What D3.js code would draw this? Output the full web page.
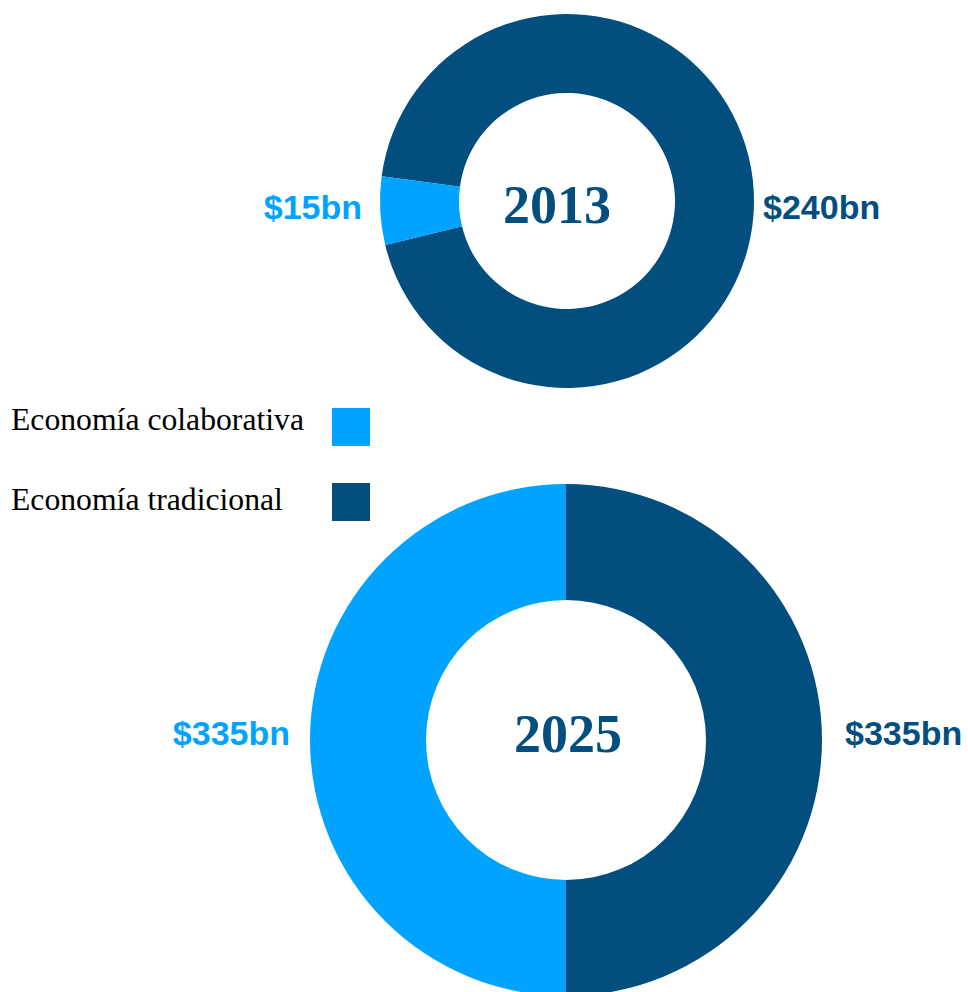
<!DOCTYPE html>
<html>
<head>
<meta charset="utf-8">
<script src="https://cdn.jsdelivr.net/npm/d3@7"></script>
<style>
  html, body { margin: 0; padding: 0; background: #ffffff; }
  svg { display: block; }
</style>
</head>
<body>
<svg id="chart" width="968" height="992"></svg>
<script>
// Market size by year, in billions of dollars
const years = ["2013", "2025"];
const collaborative = [15, 335];
const traditional = [240, 335];
const seriesNames = ["Economía colaborativa", "Economía tradicional"];

const colors = d3.scaleOrdinal()
  .domain(seriesNames)
  .range(["#00a3ff", "#014e7f"]);

// Layout for each donut
const layout = [
  { cx: 567, cy: 201, outer: 187, inner: 108, lightCenterDeg: 267,
    yearX: 557, yearY: 223, labelY: 219, leftGap: 18, rightGap: 9 },
  { cx: 566, cy: 740, outer: 256, inner: 140, lightCenterDeg: 270,
    yearX: 568, yearY: 752, labelY: 745, leftGap: 20, rightGap: 23 }
];

const svg = d3.select("#chart");
const fmt = v => "$" + v + "bn";

years.forEach((year, i) => {
  const L = layout[i];
  const rows = [
    { name: seriesNames[1], value: traditional[i] },
    { name: seriesNames[0], value: collaborative[i] }
  ];
  const total = d3.sum(rows, d => d.value);
  // rotate the ring so the collaborative slice sits around lightCenterDeg
  const start = L.lightCenterDeg * Math.PI / 180
    - (total - collaborative[i] / 2) / total * 2 * Math.PI;
  const pie = d3.pie().sort(null).value(d => d.value)
    .startAngle(start).endAngle(start + 2 * Math.PI);
  const arc = d3.arc().innerRadius(L.inner).outerRadius(L.outer);

  const g = svg.append("g").attr("transform", `translate(${L.cx},${L.cy})`);
  g.selectAll("path")
    .data(pie(rows))
    .join("path")
    .attr("d", arc)
    .attr("fill", d => colors(d.data.name));

  svg.append("text")
    .attr("x", L.yearX).attr("y", L.yearY)
    .attr("text-anchor", "middle")
    .attr("font-family", "'Liberation Serif', 'Times New Roman', serif")
    .attr("font-weight", "bold")
    .attr("font-size", 54)
    .attr("fill", colors(seriesNames[1]))
    .text(year);

  svg.append("text")
    .attr("x", L.cx - L.outer - L.leftGap).attr("y", L.labelY)
    .attr("text-anchor", "end")
    .attr("font-family", "'Liberation Sans', Arial, Helvetica, sans-serif")
    .attr("font-weight", "bold")
    .attr("font-size", 34)
    .attr("fill", colors(seriesNames[0]))
    .text(fmt(collaborative[i]));

  svg.append("text")
    .attr("x", L.cx + L.outer + L.rightGap).attr("y", L.labelY)
    .attr("text-anchor", "start")
    .attr("font-family", "'Liberation Sans', Arial, Helvetica, sans-serif")
    .attr("font-weight", "bold")
    .attr("font-size", 34)
    .attr("fill", colors(seriesNames[1]))
    .text(fmt(traditional[i]));
});

// Legend
const legend = svg.append("g");
const legendRows = [
  { name: seriesNames[0], textY: 430, boxY: 408 },
  { name: seriesNames[1], textY: 510, boxY: 483 }
];
legendRows.forEach(r => {
  legend.append("text")
    .attr("x", 11).attr("y", r.textY)
    .attr("font-family", "'Liberation Serif', 'Times New Roman', serif")
    .attr("font-size", 31.7)
    .attr("fill", "#000000")
    .text(r.name);
  legend.append("rect")
    .attr("x", 332).attr("y", r.boxY)
    .attr("width", 38).attr("height", 38)
    .attr("fill", colors(r.name));
});
</script>
</body>
</html>
